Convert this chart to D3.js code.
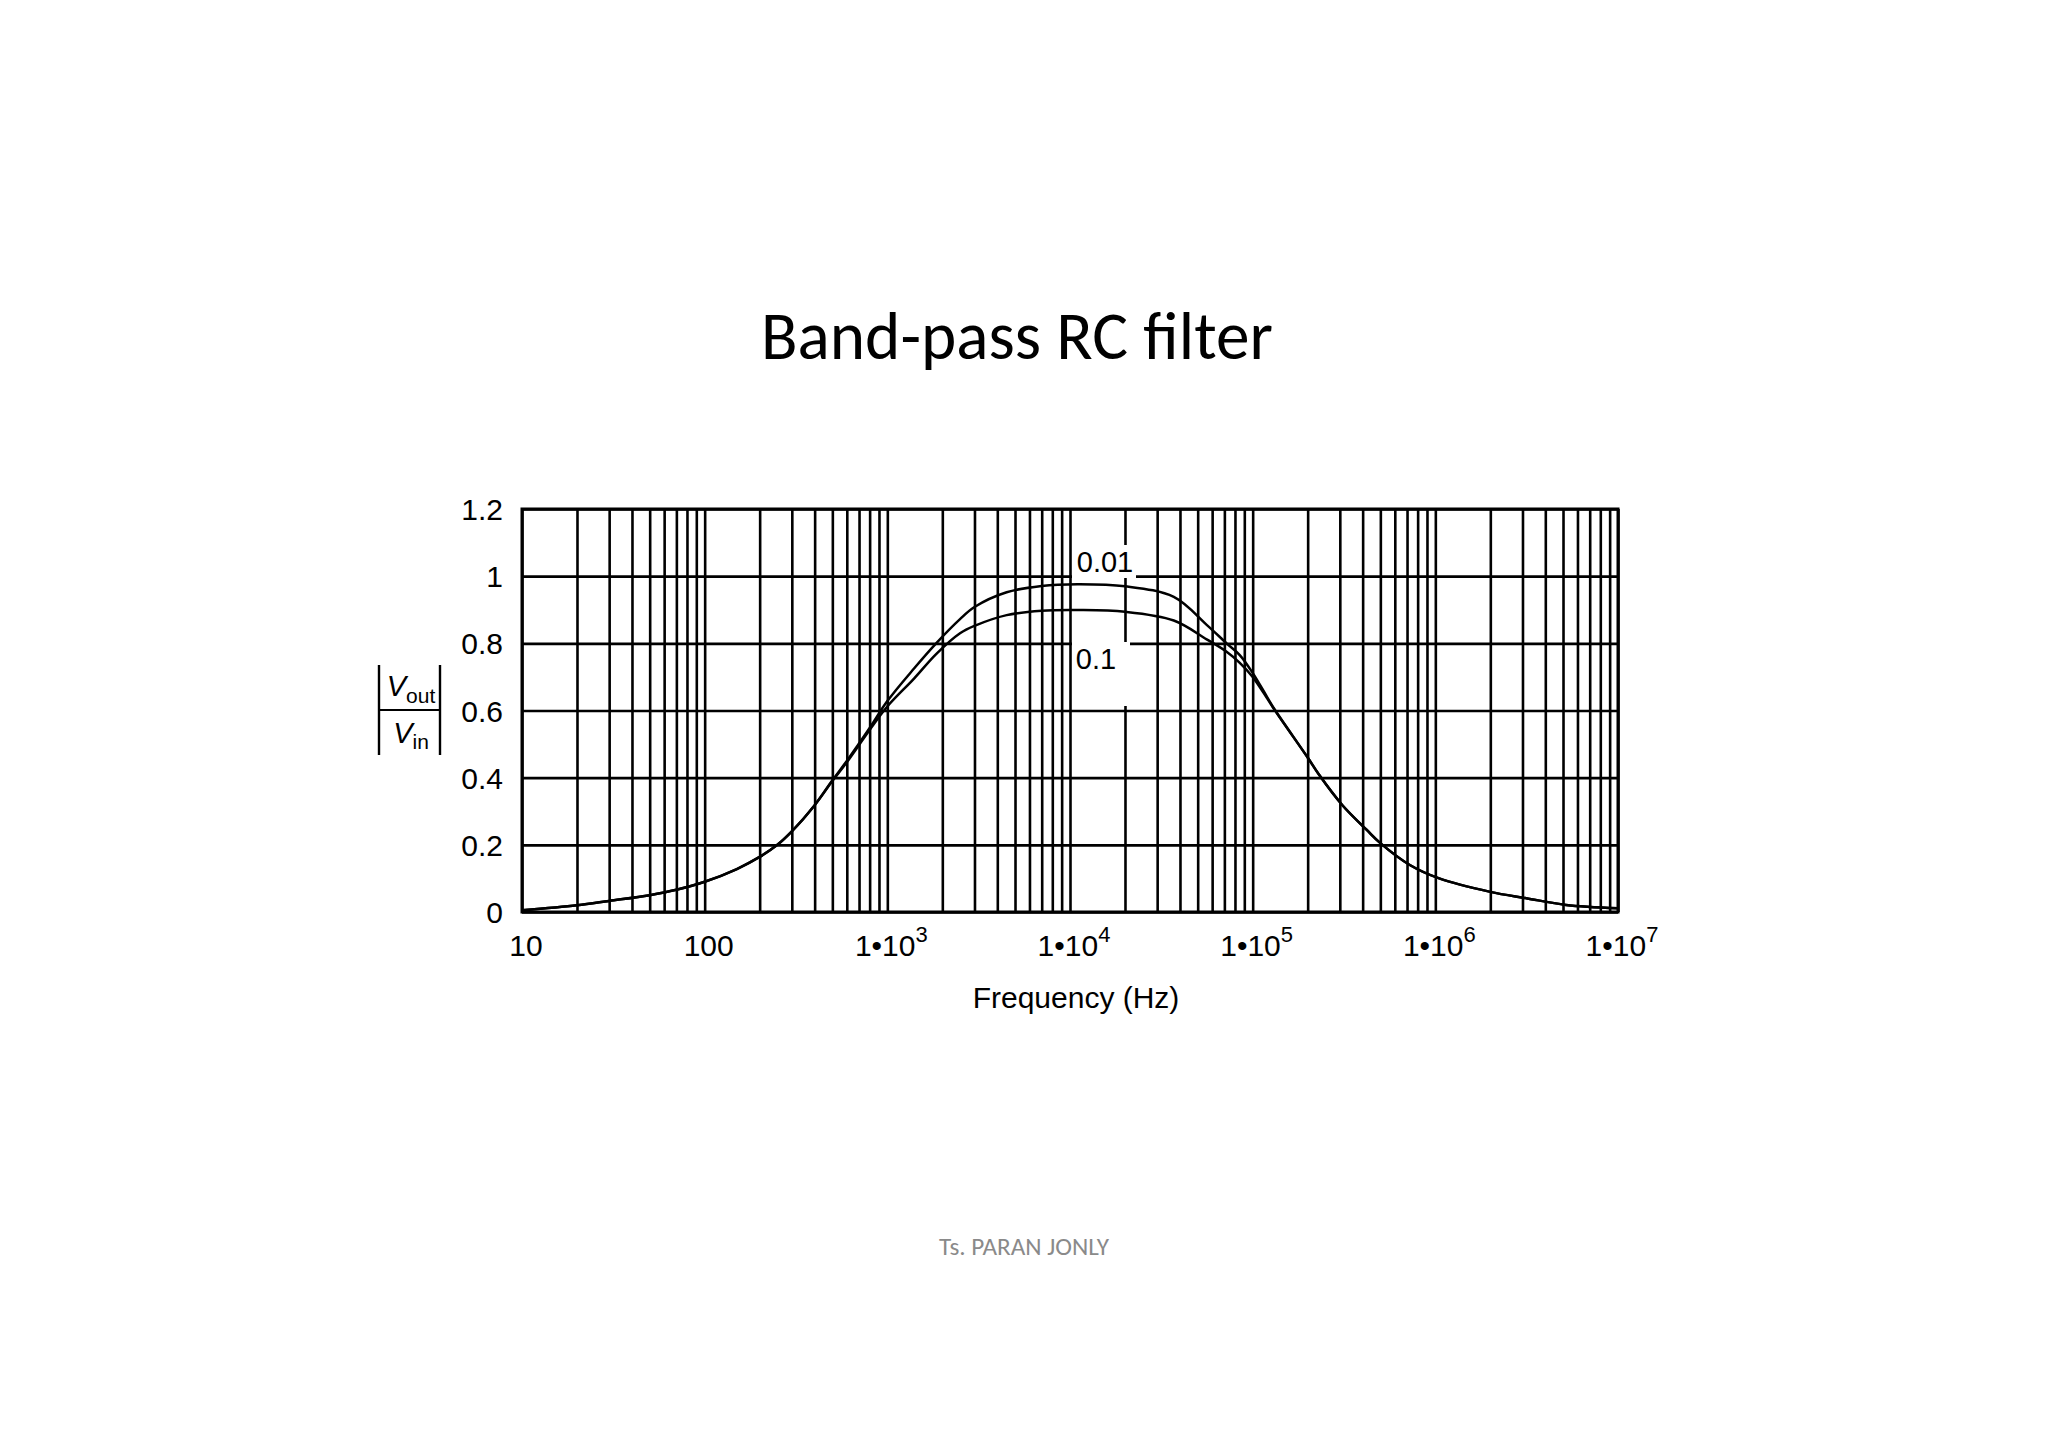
<!DOCTYPE html>
<html>
<head>
<meta charset="utf-8">
<script src="https://cdn.jsdelivr.net/npm/d3@7"></script>
<style>
  html, body { margin: 0; padding: 0; background: #fff; }
  svg { display: block; }
</style>
</head>
<body>
<script>
// ---------------- DATA ----------------
const freqs = [10, 20, 30, 50, 70, 100, 150, 200, 250, 300, 400, 500, 600, 800, 1000, 1400, 1850, 2500, 3000, 4500, 7000, 11000, 20000, 37000, 56000, 72000, 85000, 100000, 120000, 132000, 200000, 230000, 310000, 420000, 500000, 725000, 1050000, 2000000, 3150000, 5200000, 10000000];
const series001 = [0.005, 0.02, 0.033, 0.05, 0.066, 0.09, 0.128, 0.164, 0.2, 0.24, 0.318, 0.392, 0.45, 0.548, 0.628, 0.725, 0.80, 0.872, 0.908, 0.952, 0.971, 0.976, 0.97, 0.938, 0.855, 0.80, 0.765, 0.712, 0.64, 0.603, 0.46, 0.41, 0.318, 0.245, 0.205, 0.14, 0.10, 0.06, 0.041, 0.021, 0.011];
const series01  = [0.005, 0.02, 0.033, 0.05, 0.066, 0.09, 0.128, 0.164, 0.2, 0.24, 0.318, 0.39, 0.446, 0.542, 0.612, 0.695, 0.768, 0.83, 0.852, 0.884, 0.897, 0.899, 0.894, 0.868, 0.812, 0.775, 0.742, 0.70, 0.636, 0.601, 0.46, 0.41, 0.318, 0.245, 0.205, 0.14, 0.10, 0.06, 0.041, 0.021, 0.011];
const seriesNames = ["0.01", "0.1"];
const yTicks = [0, 0.2, 0.4, 0.6, 0.8, 1, 1.2];
const yTickLabels = ["0", "0.2", "0.4", "0.6", "0.8", "1", "1.2"];
const xMajorTicks = [10, 100, 1e3, 1e4, 1e5, 1e6, 1e7];
const xTickBase = ["10", "100", "1\u202210", "1\u202210", "1\u202210", "1\u202210", "1\u202210"];
const xTickExp = ["", "", "3", "4", "5", "6", "7"];
const titleText = "Band-pass RC filter";
const xAxisTitle = "Frequency (Hz)";
const footerText = "Ts. PARAN JONLY";

// ---------------- LAYOUT ----------------
const W = 2048, H = 1448;
const pL = 522, pR = 1618, pT = 509, pB = 912;
const svg = d3.select("body").append("svg").attr("width", W).attr("height", H);
svg.append("rect").attr("width", W).attr("height", H).attr("fill", "#fff");

const x = d3.scaleLog().domain([10, 1e7]).range([pL, pR]);
const y = d3.scaleLinear().domain([0, 1.2]).range([pB, pT]);

const chartFont = "'Liberation Sans', Arial, Helvetica, sans-serif";

// Title
svg.append("text").attr("x", 1017).attr("y", 359)
  .attr("text-anchor", "middle")
  .attr("font-family", "Carlito, Lato, 'Open Sans', sans-serif")
  .attr("font-size", 68).attr("fill", "#000")
  .attr("textLength", 512).attr("lengthAdjust", "spacingAndGlyphs")
  .text(titleText);

// Footer
svg.append("text").attr("x", 1024).attr("y", 1255)
  .attr("text-anchor", "middle")
  .attr("font-family", "Carlito, Lato, 'Open Sans', sans-serif")
  .attr("font-size", 24).attr("fill", "#8a8a8a")
  .attr("textLength", 170).attr("lengthAdjust", "spacingAndGlyphs")
  .text(footerText);

// Vertical grid lines (log minor+major)
const allXTicks = [];
for (let e = 1; e <= 6; e++) for (let m = 1; m <= 9; m++) allXTicks.push(m * Math.pow(10, e));
allXTicks.push(1e7);

const gx = svg.append("g").attr("transform", `translate(0,${pB})`)
  .call(d3.axisBottom(x).tickValues(allXTicks).tickSize(-(pB - pT)).tickFormat(""));
gx.select(".domain").remove();
gx.selectAll(".tick line").attr("stroke", "#000").attr("stroke-width", 2.6);

// Horizontal grid lines
const gy = svg.append("g").attr("transform", `translate(${pL},0)`)
  .call(d3.axisLeft(y).tickValues(yTicks).tickSize(-(pR - pL)).tickFormat(""));
gy.select(".domain").remove();
gy.selectAll(".tick line").attr("stroke", "#000").attr("stroke-width", 2.6);

// Frame
svg.append("rect").attr("x", pL).attr("y", pT).attr("width", pR - pL).attr("height", pB - pT)
  .attr("fill", "none").attr("stroke", "#000").attr("stroke-width", 3);

// Y tick labels
svg.append("g").selectAll("text").data(yTicks).join("text")
  .attr("x", 503).attr("y", d => y(d) + 11)
  .attr("text-anchor", "end")
  .attr("font-family", chartFont).attr("font-size", 30).attr("fill", "#000")
  .text((d, i) => yTickLabels[i]);

// X tick labels
const xl = svg.append("g").selectAll("text").data(xMajorTicks).join("text")
  .attr("x", d => x(d) + 4).attr("y", 956)
  .attr("text-anchor", "middle")
  .attr("font-family", chartFont).attr("font-size", 30).attr("fill", "#000");
xl.each(function (d, i) {
  const t = d3.select(this);
  t.append("tspan").text(xTickBase[i]);
  if (xTickExp[i]) t.append("tspan").attr("dy", -14).attr("font-size", 22).text(xTickExp[i]);
});

// X axis title
svg.append("text").attr("x", 1076).attr("y", 1008)
  .attr("text-anchor", "middle")
  .attr("font-family", chartFont).attr("font-size", 30).attr("fill", "#000")
  .text(xAxisTitle);

// Y axis title |Vout/Vin|
const yt = svg.append("g");
yt.append("line").attr("x1", 379).attr("x2", 379).attr("y1", 665).attr("y2", 755).attr("stroke", "#000").attr("stroke-width", 2.4);
yt.append("line").attr("x1", 440).attr("x2", 440).attr("y1", 665).attr("y2", 755).attr("stroke", "#000").attr("stroke-width", 2.4);
yt.append("line").attr("x1", 379).attr("x2", 440).attr("y1", 710).attr("y2", 710).attr("stroke", "#000").attr("stroke-width", 2.2);
const vo = yt.append("text").attr("x", 411).attr("y", 696).attr("text-anchor", "middle")
  .attr("font-family", chartFont).attr("font-size", 29).attr("fill", "#000");
vo.append("tspan").attr("font-style", "italic").text("V");
vo.append("tspan").attr("font-size", 21).attr("dy", 7).text("out");
const vi = yt.append("text").attr("x", 411).attr("y", 743).attr("text-anchor", "middle")
  .attr("font-family", chartFont).attr("font-size", 29).attr("fill", "#000");
vi.append("tspan").attr("font-style", "italic").text("V");
vi.append("tspan").attr("font-size", 21).attr("dy", 6).text("in");

// Curve labels with white background
const labelPos = [{ x: 1105, y: 572, bx: 1072, by: 545, bw: 64, bh: 33 }, { x: 1096, y: 669, bx: 1072, by: 642, bw: 58, bh: 64 }];
const lab = svg.append("g");
seriesNames.forEach((name, i) => {
  const p = labelPos[i];
  lab.append("rect").attr("x", p.bx).attr("y", p.by).attr("width", p.bw).attr("height", p.bh).attr("fill", "#fff");
  lab.append("text").attr("x", p.x).attr("y", p.y).attr("text-anchor", "middle")
    .attr("font-family", chartFont).attr("font-size", 29).attr("fill", "#000").text(name);
});

// Curves
const line = d3.line().x(d => x(d[0])).y(d => y(d[1])).curve(d3.curveCatmullRom.alpha(0.5));
[series001, series01].forEach(vals => {
  svg.append("path").datum(freqs.map((f, i) => [f, vals[i]]))
    .attr("d", line).attr("fill", "none").attr("stroke", "#000").attr("stroke-width", 2.5);
});
</script>
</body>
</html>
